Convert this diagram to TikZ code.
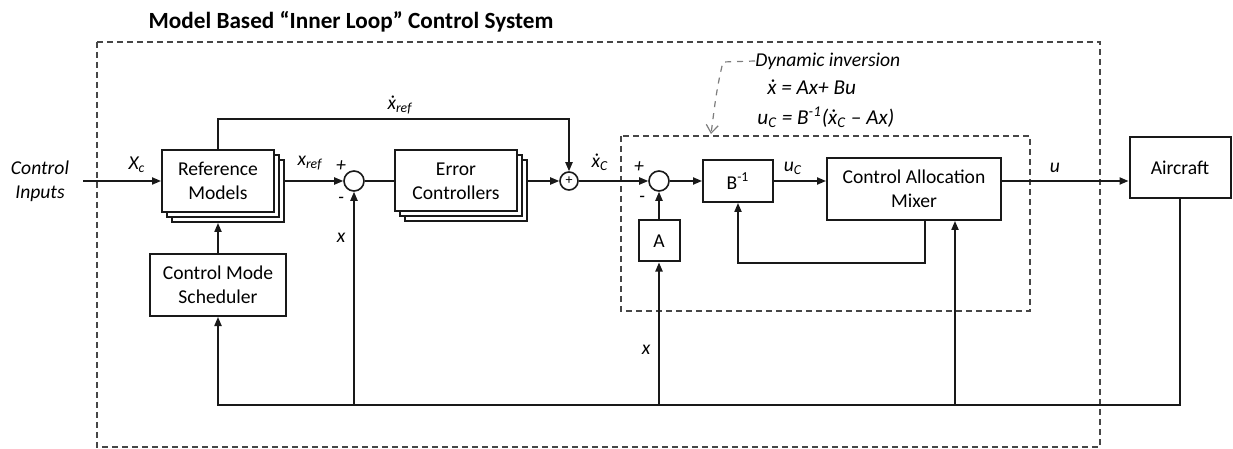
\documentclass[tikz,border=0pt]{standalone}
\usepackage{fontspec}
\setmainfont{Carlito}
\usepackage{amsmath}
\usetikzlibrary{arrows.meta, positioning, calc}
\definecolor{lineblack}{RGB}{25,25,25}
\definecolor{notegray}{RGB}{125,125,125}
\definecolor{framegray}{RGB}{70,70,70}

\tikzset{
  blk/.style={draw=lineblack, line width=1pt, fill=white, align=center, inner sep=0pt,
    font=\fontsize{9.8}{12}\selectfont},
  sumnode/.style={circle, draw=lineblack, line width=0.8pt, fill=white, minimum size=10pt, inner sep=0pt},
  conn/.style={draw=lineblack, line width=0.75pt},
  arr/.style={conn, -{Triangle[length=4.5pt,width=3.6pt]}},
  lbl/.style={font=\fontsize{9.8}{12}\selectfont\itshape, inner sep=1pt},
  eqn/.style={lbl, anchor=west, inner sep=0pt, font=\fontsize{10.6}{12}\selectfont\itshape},
  frame/.style={draw=framegray, densely dashed, line width=0.7pt},
}
\newcommand{\xd}{ẋ}

\begin{document}
\begin{tikzpicture}[x=0.5pt, y=-0.5pt]
  \useasboundingbox (0,0) rectangle (1233,449);

  % frames
  \node[font=\fontsize{11.6}{14}\selectfont\bfseries] (title) at (351,22) {Model Based “Inner Loop” Control System};
  \draw[frame] (97,42) rectangle (1100,447);
  \draw[frame] (621,136) rectangle (1030,311);

  % stacked blocks
  \node[blk, minimum width=56pt, minimum height=31pt] (ref3) at (228,191) {};
  \node[blk, minimum width=56pt, minimum height=31pt] (ref2) at (223,186) {};
  \node[blk, minimum width=56pt, minimum height=31pt] (ref) at (218,181) {Reference\\Models};
  \node[blk, minimum width=61pt, minimum height=30.5pt] (err3) at (466,191) {};
  \node[blk, minimum width=61pt, minimum height=30.5pt] (err2) at (461,186) {};
  \node[blk, minimum width=61pt, minimum height=30.5pt] (err) at (456,181) {Error\\Controllers};

  % single blocks
  \node[blk, minimum width=68pt, minimum height=31pt] (sched) at (218,285) {Control Mode\\Scheduler};
  \node[blk, minimum width=20.5pt, minimum height=20.5pt] (A) at (659,241) {A};
  \node[blk, minimum width=35pt, minimum height=21pt] (Binv) at (738,181) {B\textsuperscript{-1}};
  \node[blk, minimum width=87pt, minimum height=31pt] (mix) at (914,189) {Control Allocation\\Mixer};
  \node[blk, minimum width=50.5pt, minimum height=30.5pt] (air) at (1180,168) {Aircraft};

  % summing junctions
  \node[sumnode] (sum1) at (354,181) {};
  \node[sumnode, minimum size=9pt, font=\fontsize{7}{7}\selectfont] (sum2) at (569,181) {+};
  \node[sumnode] (sum3) at (659,181) {};

  % helper coordinates
  \coordinate (cinend) at (83,181);
  \coordinate (topbus) at (0,119);
  \coordinate (fb) at (0,405);
  \coordinate (mixin) at (955,405);
  \coordinate (mixout) at (925,0);
  \coordinate (dynbend) at (723,62);
  \coordinate (dyntip) at (711,134);

  % forward path
  \node[lbl, align=center] (cin) at (40,181) {Control\\Inputs};
  \draw[arr] (cinend) -- (ref.west);
  \draw[arr] (ref3.east |- ref.east) -- (sum1.west);
  \draw[conn] (sum1.east) -- (err.west);
  \draw[arr] (err3.east |- err.east) -- (sum2.west);
  \draw[arr] (sum2.east) -- (sum3.west);
  \draw[arr] (sum3.east) -- (Binv.west);
  \draw[arr] (Binv.east) -- (Binv.east -| mix.west);
  \draw[arr] (Binv.east -| mix.east) -- (Binv.east -| air.west);
  \draw[arr] (ref.north) -- (ref.north |- topbus) -| (sum2.north);
  \draw[arr] (A.north) -- (sum3.south);
  \draw[arr] (mix.south -| mixout) -- ++(0,42) -| (Binv.south);
  \draw[arr] (sched.north) -- (sched.north |- ref3.south);

  % feedback
  \draw[arr] (air.south) -- (air.south |- fb) -| (sched.south);
  \draw[arr] (sum1.south |- fb) -- (sum1.south);
  \draw[arr] (A.south |- fb) -- (A.south);
  \draw[arr] (mixin) -- (mixin |- mix.south);

  % signal labels
  \node[lbl] (xc) at (137,165) {X\textsubscript{c}};
  \node[lbl] (xref) at (310,163) {x\textsubscript{ref}};
  \node[lbl] (p1) at (341,166) {+};
  \node[lbl] (m1) at (341,200) {-};
  \node[lbl] (x1) at (341,238) {x};
  \node[lbl] (xdref) at (400,105) {\xd\textsubscript{ref}};
  \node[lbl] (xdc) at (600,162) {\xd\textsubscript{C}};
  \node[lbl] (p3) at (639,167) {+};
  \node[lbl] (m3) at (642,199) {-};
  \node[lbl] (uc) at (793,168) {u\textsubscript{C}};
  \node[lbl] (u) at (1055,168) {u};
  \node[lbl] (x2) at (646,350) {x};

  % dynamic inversion note
  \node[lbl, anchor=west, inner sep=0pt] (dyn) at (755,61) {Dynamic inversion};
  \node[eqn] (eq1) at (767,87) {\xd{} = Ax+ Bu};
  \node[eqn] (eq2) at (757,117) {u\textsubscript{C} = B\textsuperscript{-1}(\xd\textsubscript{C} – Ax)};
  \draw[notegray, dashed, line width=0.6pt, -{Straight Barb[length=4pt,width=6pt]}]
    (dyn.west) -- (dynbend) .. controls (716,90) and (714,112) .. (dyntip);
\end{tikzpicture}
\end{document}
